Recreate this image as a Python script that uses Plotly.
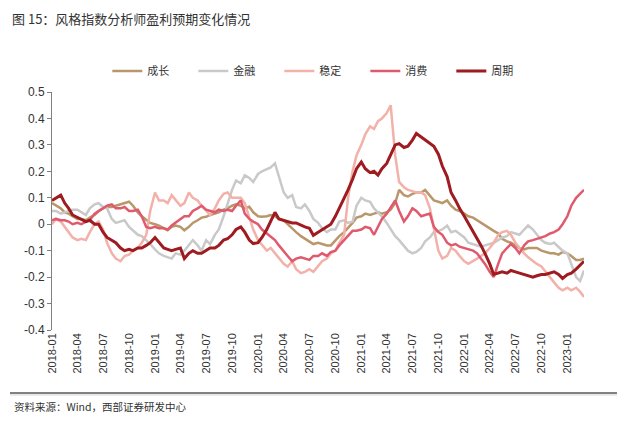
import pandas as pd
import plotly.graph_objects as go

# semi-monthly observations, 2018-01 .. 2023-03
dates = pd.date_range("2018-01-01", periods=125, freq="SMS")

chengzhang = [0.08, 0.07, 0.06, 0.045, 0.04, 0.03, 0.02, 0.02, 0.015, 0.025,
              0.035, 0.05, 0.06, 0.065, 0.065, 0.07, 0.075, 0.08, 0.085, 0.07,
              0.045, 0.03, 0.015, 0.005, 0.0, -0.005, -0.015, -0.023, -0.01, -0.005,
              -0.01, -0.023, -0.01, 0.005, 0.015, 0.025, 0.028, 0.035, 0.04, 0.045,
              0.055, 0.06, 0.07, 0.075, 0.07, 0.06, 0.066, 0.045, 0.03, 0.028,
              0.03, 0.035, 0.03, 0.02, 0.015, 0.0, -0.015, -0.03, -0.045, -0.055,
              -0.065, -0.075, -0.07, -0.075, -0.08, -0.08, -0.06, -0.045, -0.03, -0.015,
              0.005, 0.025, 0.03, 0.04, 0.035, 0.04, 0.045, 0.04, 0.045, 0.055,
              0.08, 0.13, 0.11, 0.105, 0.115, 0.12, 0.12, 0.13, 0.11, 0.09,
              0.085, 0.08, 0.09, 0.07, 0.055, 0.05, 0.04, 0.03, 0.025, 0.015,
              0.005, -0.005, -0.015, -0.025, -0.035, -0.055, -0.065, -0.07, -0.08, -0.09,
              -0.095, -0.09, -0.09, -0.09, -0.1, -0.105, -0.11, -0.11, -0.115, -0.105,
              -0.11, -0.12, -0.135, -0.135, -0.13]

jinrong = [0.05, 0.05, 0.04, 0.045, 0.05, 0.055, 0.055, 0.045, 0.035, 0.06,
           0.075, 0.08, 0.065, 0.06, 0.02, 0.005, 0.01, 0.015, -0.01, -0.025,
           -0.04, -0.045, -0.06, -0.075, -0.095, -0.11, -0.12, -0.125, -0.13, -0.11,
           -0.115, -0.1, -0.08, -0.06, -0.08, -0.1, -0.06, -0.075, -0.04, -0.02,
           0.03, 0.08, 0.13, 0.165, 0.155, 0.185, 0.175, 0.16, 0.19, 0.2,
           0.21, 0.215, 0.23, 0.18, 0.12, 0.1, 0.11, 0.065, 0.06, 0.075,
           0.05, 0.02, 0.005, -0.015, -0.03, -0.02, -0.02, 0.01, 0.015, 0.005,
           0.01, 0.07, 0.1, 0.09, 0.085, 0.06, 0.045, 0.03, 0.005, -0.02,
           -0.045, -0.06, -0.08, -0.1, -0.11, -0.105, -0.09, -0.065, -0.05, -0.03,
           -0.025, -0.02, -0.005, -0.03, -0.025, -0.035, -0.05, -0.07, -0.075, -0.08,
           -0.085, -0.08, -0.075, -0.07, -0.06, -0.05, -0.045, -0.03, -0.035, -0.04,
           -0.02, -0.005, -0.02, -0.04, -0.06, -0.07, -0.075, -0.07, -0.085, -0.1,
           -0.11, -0.15, -0.2, -0.215, -0.175]

wending = [0.0, 0.02, 0.01, -0.01, -0.03, -0.05, -0.06, -0.055, -0.06, -0.03,
           0.0, 0.01, -0.02, -0.07, -0.11, -0.13, -0.14, -0.12, -0.115, -0.1,
           -0.09, -0.07, -0.04, 0.05, 0.12, 0.09, 0.09, 0.08, 0.11, 0.09,
           0.07, 0.08, 0.12, 0.1, 0.09, 0.07, 0.05, 0.035, 0.06, 0.09,
           0.115, 0.12, 0.1, 0.1, 0.1, 0.08, 0.03, -0.02, -0.06, -0.08,
           -0.1, -0.09, -0.11, -0.13, -0.15, -0.16, -0.14, -0.17, -0.185, -0.18,
           -0.17, -0.18, -0.16, -0.14, -0.13, -0.11, -0.1, -0.07, -0.04, 0.1,
           0.2, 0.26, 0.3, 0.34, 0.37, 0.36, 0.39, 0.4, 0.42, 0.45,
           0.26, 0.16, 0.14, 0.13, 0.125, 0.12, 0.12, 0.11, 0.06, -0.02,
           -0.1, -0.13, -0.12, -0.09, -0.1, -0.12, -0.14, -0.15, -0.14, -0.13,
           -0.12, -0.11, -0.09, -0.07, -0.04, -0.03, -0.025, -0.04, -0.07, -0.09,
           -0.11, -0.125, -0.14, -0.15, -0.16, -0.18, -0.2, -0.22, -0.24, -0.25,
           -0.24, -0.25, -0.24, -0.255, -0.275]

xiaofei = [0.015, 0.02, 0.015, 0.015, 0.01, 0.0, 0.005, 0.0, 0.01, 0.015,
           0.04, 0.05, 0.06, 0.07, 0.075, 0.06, 0.06, 0.065, 0.05, 0.05,
           0.055, 0.03, -0.01, -0.015, -0.01, -0.015, -0.015, -0.02, -0.005, 0.005,
           0.02, 0.03, 0.03, 0.05, 0.06, 0.07, 0.055, 0.05, 0.045, 0.055,
           0.05, 0.055, 0.05, 0.07, 0.09, 0.04, 0.02, 0.01, 0.0, -0.02,
           -0.035, -0.05, -0.06, -0.08, -0.1, -0.12, -0.14, -0.13, -0.125, -0.13,
           -0.135, -0.12, -0.12, -0.11, -0.12, -0.105, -0.1, -0.08, -0.06, -0.04,
           -0.025, -0.025, -0.02, -0.01, -0.015, -0.04, -0.01, 0.02, 0.04, 0.065,
           0.09, 0.05, 0.01, 0.03, 0.06, 0.05, 0.03, 0.035, 0.04, -0.01,
           -0.03, -0.04, -0.07, -0.08, -0.075, -0.085, -0.09, -0.095, -0.1, -0.11,
           -0.13, -0.15, -0.18, -0.2, -0.15, -0.11, -0.09, -0.075, -0.09, -0.11,
           -0.08, -0.065, -0.06, -0.055, -0.05, -0.045, -0.035, -0.03, -0.02, 0.0,
           0.03, 0.07, 0.1, 0.115, 0.13]

zhouqi = [0.09, 0.1, 0.11, 0.08, 0.06, 0.035, 0.025, 0.02, 0.01, 0.015,
          0.0, 0.0, -0.03, -0.05, -0.06, -0.07, -0.09, -0.1, -0.095, -0.1,
          -0.09, -0.09, -0.08, -0.07, -0.05, -0.07, -0.09, -0.095, -0.1, -0.095,
          -0.09, -0.13, -0.11, -0.1, -0.11, -0.11, -0.1, -0.09, -0.09, -0.08,
          -0.06, -0.055, -0.04, -0.02, -0.01, -0.03, -0.06, -0.073, -0.07, -0.05,
          -0.02, 0.01, 0.045, 0.02, 0.015, 0.01, 0.005, 0.005, -0.005, -0.01,
          -0.015, -0.042, -0.03, -0.02, -0.01, 0.0, 0.03, 0.06, 0.1, 0.13,
          0.17, 0.21, 0.235, 0.21, 0.195, 0.2, 0.186, 0.21, 0.23, 0.26,
          0.3, 0.305, 0.29, 0.295, 0.318, 0.343, 0.33, 0.32, 0.305, 0.295,
          0.265, 0.22, 0.18, 0.12, 0.09, 0.06, 0.03, 0.005, -0.025, -0.05,
          -0.08, -0.11, -0.15, -0.19, -0.185, -0.18, -0.185, -0.175, -0.18, -0.185,
          -0.19, -0.195, -0.2, -0.195, -0.19, -0.19, -0.185, -0.18, -0.19, -0.205,
          -0.19, -0.185, -0.17, -0.155, -0.14]

series_names = ["成长", "金融", "稳定", "消费", "周期"]
series_values = [chengzhang, jinrong, wending, xiaofei, zhouqi]
series_colors = ["#B9976B", "#C9C9C9", "#F2B1A9", "#E05A6D", "#9E1B20"]
series_widths = [2.5, 2.5, 2.5, 2.5, 3]

ytick_vals = [-0.4, -0.3, -0.2, -0.1, 0, 0.1, 0.2, 0.3, 0.4, 0.5]
ytick_text = ["-0.4", "-0.3", "-0.2", "-0.1", "0", "0.1", "0.2", "0.3", "0.4", "0.5"]

title_text = "图 15：风格指数分析师盈利预期变化情况"
source_text = "资料来源：Wind，西部证券研发中心"

fig = go.Figure()
for name, vals, col, w in zip(series_names, series_values, series_colors, series_widths):
    fig.add_trace(go.Scatter(x=dates, y=vals, name=name, mode="lines",
                             line=dict(color=col, width=w), hoverinfo="skip"))

xr = [dates[0], dates[-1]]
cjk = "Noto Sans CJK SC"
# the page body adds an 8px offset, so the figure is 8px smaller and shifted
fig.update_layout(
    width=632, height=420,
    margin=dict(l=44, r=56, t=84, b=98, autoexpand=False),
    paper_bgcolor="white", plot_bgcolor="white",
    showlegend=True,
    legend=dict(orientation="h", x=0.104, xanchor="left", y=1.088, yanchor="middle",
                font=dict(family=cjk, size=11, color="#333333"),
                entrywidth=41, entrywidthmode="pixels", itemwidth=30,
                bgcolor="rgba(0,0,0,0)"),
    xaxis=dict(type="date", range=xr, tickformat="%Y-%m", dtick="M3",
               tick0="2018-01-01", tickangle=-90, showgrid=False, showline=False,
               ticks="", zeroline=False,
               tickfont=dict(family="Liberation Sans, Arial", size=11, color="#333333")),
    xaxis2=dict(type="date", range=xr, overlaying="x", anchor="free", position=0.4444,
                dtick="M3", tick0="2018-01-01", showticklabels=False, showgrid=False,
                showline=True, linecolor="#595959", linewidth=1,
                ticks="inside", ticklen=3, tickcolor="#595959"),
    yaxis=dict(range=[-0.4, 0.5], tickvals=ytick_vals, ticktext=ytick_text,
               showgrid=False, zeroline=False, showline=True, linecolor="#808080",
               linewidth=1, ticks="outside", ticklen=4, tickcolor="#808080",
               tickfont=dict(family="Liberation Sans, Arial", size=12, color="#333333")),
    annotations=[
        dict(text=title_text, xref="paper", yref="paper",
             x=-0.079, y=1.307, xanchor="left", yanchor="middle", showarrow=False,
             font=dict(family=cjk, size=13, color="#333333")),
        dict(text=source_text, xref="paper", yref="paper",
             x=-0.075, y=-0.322, xanchor="left", yanchor="middle", showarrow=False,
             font=dict(family=cjk, size=10.5, color="#333333")),
    ],
    shapes=[
        dict(type="rect", xref="paper", yref="paper", x0=-0.079, x1=1.062,
             y0=-0.276, y1=-0.268, line=dict(width=0), fillcolor="#E6E6E6"),
        dict(type="line", xref="paper", yref="paper", x0=-0.079, x1=1.062,
             y0=-0.265, y1=-0.265, line=dict(color="#595959", width=1.5)),
    ],
)

fig.write_html("out.html")
